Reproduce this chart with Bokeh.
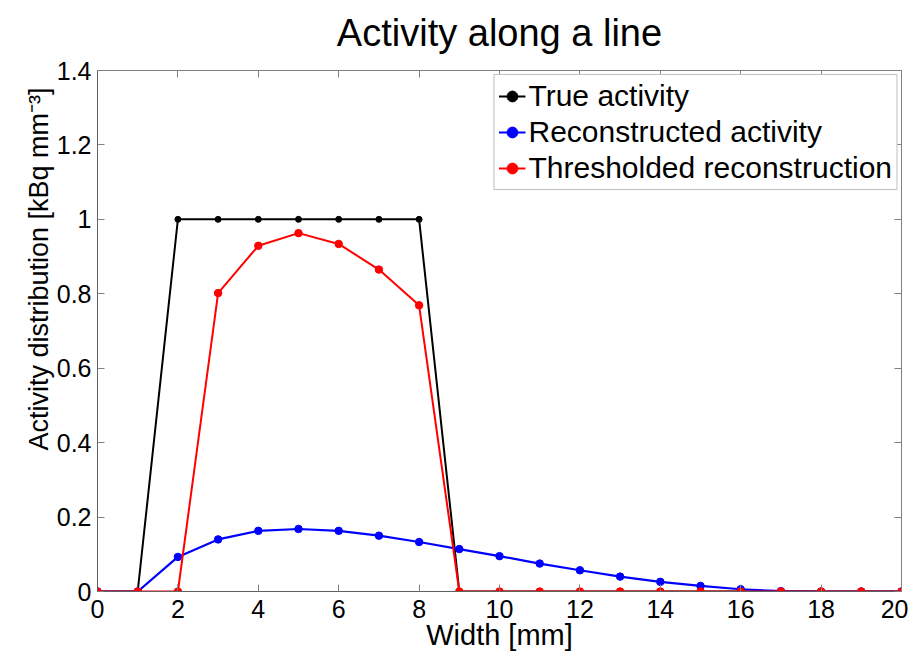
from bokeh.plotting import figure
from bokeh.models import (LinearAxis, FixedTicker, Legend, LegendItem, Range1d,
                          CustomJSTickFormatter, Title)
from bokeh.embed import file_html
from bokeh.resources import INLINE

width_mm = list(range(0, 21))
true_activity = [0, 0, 1, 1, 1, 1, 1, 1, 1, 0, 0, 0, 0, 0, 0, 0, 0, 0, 0, 0, 0]
reconstructed = [0, 0, 0.093, 0.140, 0.163, 0.168, 0.163, 0.150, 0.133, 0.114, 0.095,
                 0.075, 0.057, 0.040, 0.026, 0.015, 0.006, 0.001, 0, 0, 0]
thresholded = [0, 0, 0, 0.802, 0.929, 0.963, 0.934, 0.865, 0.769, 0, 0,
               0, 0, 0, 0, 0, 0, 0, 0, 0, 0]

x_ticks = [0, 2, 4, 6, 8, 10, 12, 14, 16, 18, 20]
y_ticks = [0, 0.2, 0.4, 0.6, 0.8, 1.0, 1.2, 1.4]
y_tick_labels = ["0", "0.2", "0.4", "0.6", "0.8", "1", "1.2", "1.4"]

FONT = "Liberation Sans"
AXC = "#808080"

p = figure(width=908, height=653, output_backend="svg", toolbar_location=None, title=None,
           x_range=Range1d(0, 20), y_range=Range1d(0, 1.4),
           min_border_left=97, min_border_right=7, min_border_top=70, min_border_bottom=62)

p.xgrid.visible = False
p.ygrid.visible = False
p.outline_line_color = AXC

p.xaxis.axis_label = "Width [mm]"

for ax in (p.xaxis[0], p.yaxis[0]):
    ax.axis_label_text_font = FONT
    ax.axis_label_text_font_size = "29px"
    ax.axis_label_text_font_style = "normal"
    ax.axis_label_text_color = "black"
    ax.major_label_text_font = FONT
    ax.major_label_text_font_size = "25px"
    ax.major_label_text_color = "black"
    ax.axis_line_color = "#606060"
    ax.major_tick_line_color = AXC
    ax.major_tick_in = 7
    ax.major_tick_out = 0
    ax.minor_tick_line_color = None
p.xaxis[0].ticker = FixedTicker(ticks=x_ticks)
p.yaxis[0].ticker = FixedTicker(ticks=y_ticks)
p.yaxis[0].major_label_overrides = {t: s for t, s in zip(y_ticks, y_tick_labels)}
p.xaxis[0].major_label_standoff = 8
p.yaxis[0].major_label_standoff = 6
p.xaxis[0].axis_label_standoff = -2

for loc, ticks in (("right", y_ticks), ("above", x_ticks)):
    ax = LinearAxis(ticker=FixedTicker(ticks=ticks),
                    formatter=CustomJSTickFormatter(code="return ''"),
                    axis_line_color=AXC, major_tick_line_color=AXC,
                    major_tick_in=7, major_tick_out=0, minor_tick_line_color=None,
                    major_label_standoff=0)
    if loc == "above":
        # chart title, drawn as the label of the top axis
        ax.axis_label = "Activity along a line"
        ax.axis_label_text_font = FONT
        ax.axis_label_text_font_size = "38px"
        ax.axis_label_text_font_style = "normal"
        ax.axis_label_text_color = "black"
        ax.axis_label_standoff = 17
    p.add_layout(ax, loc)

ylab = Title(text="Activity distribution [kBq mm\u207b\u00b3]", align="left", offset=141,
             vertical_align="bottom", standoff=0,
             text_font=FONT, text_font_size="27px", text_font_style="normal",
             text_color="black")
p.add_layout(ylab, "left")

r1 = p.line(width_mm, true_activity, line_color="black", line_width=2)
r1m = p.scatter(width_mm, true_activity, size=6, color="black")
r2 = p.line(width_mm, reconstructed, line_color="blue", line_width=2.2)
r2m = p.scatter(width_mm, reconstructed, size=7.5, color="blue")
r3 = p.line(width_mm, thresholded, line_color="red", line_width=2)
r3m = p.scatter(width_mm, thresholded, size=7.5, color="red")

legend = Legend(items=[
    LegendItem(label="True activity", renderers=[r1, r1m]),
    LegendItem(label="Reconstructed activity", renderers=[r2, r2m]),
    LegendItem(label="Thresholded reconstruction", renderers=[r3, r3m]),
], location="top_right")
legend.label_text_font = FONT
legend.label_text_font_size = "30px"
legend.label_text_color = "black"
legend.border_line_color = AXC
legend.border_line_width = 1
legend.glyph_width = 27
legend.glyph_height = 30
legend.label_height = 30
legend.spacing = 2
legend.padding = 4
legend.margin = 4
legend.label_standoff = 3
legend.background_fill_alpha = 1
p.add_layout(legend, "center")

open("out.html", "w").write(file_html(p, INLINE))
